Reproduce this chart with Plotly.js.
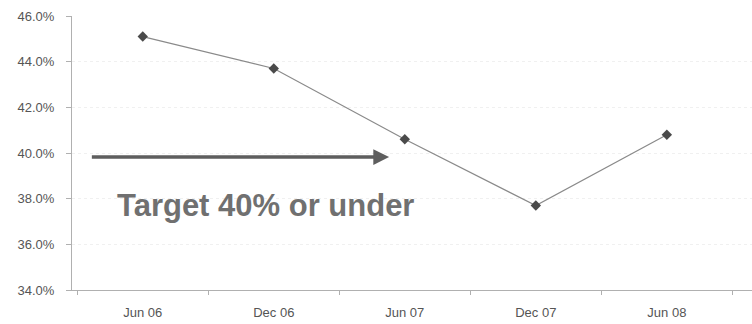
<!DOCTYPE html>
<html>
<head>
<meta charset="utf-8">
<script src="https://cdn.plot.ly/plotly-3.0.1.min.js"></script>
<style>
  html, body { margin: 0; padding: 0; background: #fff; }
  #chart { width: 752px; height: 324px; }
</style>
</head>
<body>
<div id="chart"></div>
<script>
// Half-yearly ratio, in percent
const periods = ["Jun 06", "Dec 06", "Jun 07", "Dec 07", "Jun 08"];
const ratio = [45.1, 43.7, 40.6, 37.7, 40.8];
const yTicks = [34, 36, 38, 40, 42, 44, 46];
const targetLabel = "Target 40% or under";
const targetLevel = 40;

const trace = {
  x: periods,
  y: ratio,
  type: "scatter",
  mode: "lines+markers",
  line: { color: "#8a8a8a", width: 1.2 },
  marker: { symbol: "diamond", size: 8, color: "#4a4a4a" },
  hoverinfo: "skip"
};

const layout = {
  width: 752,
  height: 324,
  margin: { l: 72, r: 0, t: 16, b: 34 },
  paper_bgcolor: "#ffffff",
  plot_bgcolor: "#ffffff",
  showlegend: false,
  font: { family: "Liberation Sans, Arial, sans-serif", color: "#555555", size: 13 },
  xaxis: {
    type: "category",
    range: [-0.54, 4.65],
    tickson: "boundaries",
    ticks: "outside",
    ticklen: 4,
    tickcolor: "#b0b0b0",
    showline: true,
    linecolor: "#b0b0b0",
    linewidth: 1,
    showgrid: false,
    zeroline: false,
    ticklabelstandoff: 10,
    tickfont: { size: 13, color: "#555555" }
  },
  yaxis: {
    range: [34, 46],
    tickvals: yTicks,
    ticktext: yTicks.map(v => v.toFixed(1) + "%"),
    ticks: "outside",
    ticklen: 5,
    tickcolor: "#b0b0b0",
    showline: true,
    linecolor: "#b0b0b0",
    linewidth: 1,
    showgrid: true,
    gridcolor: "#f0f0f0",
    griddash: "dot",
    zeroline: false,
    ticklabelstandoff: 9,
    tickfont: { size: 13, color: "#555555" }
  },
  annotations: [
    {
      // target arrow pointing right at just under the 40% level
      x: 1.88, y: targetLevel - 0.18,
      ax: -0.4, ay: targetLevel - 0.18,
      xref: "x", yref: "y", axref: "x", ayref: "y",
      showarrow: true,
      arrowhead: 2,
      arrowsize: 0.9,
      arrowwidth: 3.5,
      arrowcolor: "#5e5e5e",
      text: ""
    },
    {
      x: 0.94, y: 37.68,
      xref: "x", yref: "y",
      showarrow: false,
      text: "<b>" + targetLabel + "</b>",
      font: { family: "Liberation Sans, Arial, sans-serif", size: 31, color: "#707070" }
    }
  ]
};

Plotly.newPlot("chart", [trace], layout, { staticPlot: true, displayModeBar: false });
</script>
</body>
</html>
